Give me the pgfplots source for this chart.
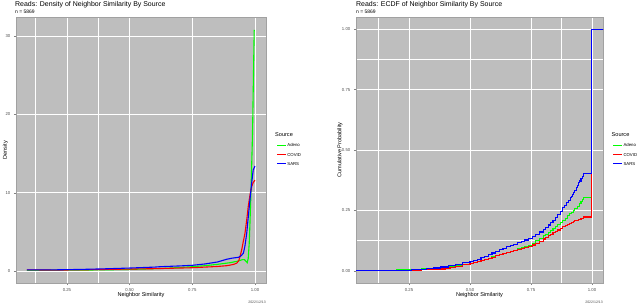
\documentclass[border=0pt]{standalone}
\usepackage{pgfplots}
\pgfplotsset{compat=1.18}
\usepackage{fontspec}
\setmainfont{Liberation Sans}
\definecolor{panelbg}{HTML}{BEBEBE}
\definecolor{ticklab}{HTML}{4D4D4D}
\definecolor{cgreen}{HTML}{00FF00}
\definecolor{cred}{HTML}{FF0000}
\definecolor{cblue}{HTML}{0000FF}

\pgfplotsset{
 ggbase/.style={
  scale only axis,
  axis background/.style={fill=panelbg},
  axis line style={draw=panelbg!85!black, line width=0.4bp},
  tick align=outside,
  tick pos=left,
  major tick length=2.2bp,
  minor tick length=0bp,
  every tick/.style={draw=ticklab!70, line width=0.4bp},
  grid=both,
  major grid style={white, line width=0.9bp},
  minor grid style={white, line width=0.45bp},
  tick label style={font=\fontsize{4.3}{5}\selectfont, text=ticklab},
  /pgf/number format/assume math mode=true,
  label style={font=\fontsize{5.6}{6}\selectfont},
  xlabel style={at={(axis description cs:0.5,-0.0489)}, anchor=base},
  clip=true,
  legend style={draw=none, fill=none, inner sep=0pt, outer sep=0pt,
    font=\fontsize{4.3}{5}\selectfont, row sep=3.4bp,
    nodes={inner sep=0.8bp, text height=3.3bp, text depth=0.8bp}},
  legend cell align=left,
  legend image code/.code={\draw[#1] (0bp,0bp) -- (9bp,0bp);},
 }
}

\begin{document}
\begin{tikzpicture}
\useasboundingbox (0,0) rectangle (640bp,304bp);
% ---------------- Left: density ----------------
\begin{axis}[ggbase,
  at={(16bp,21bp)}, anchor=south west, width=250bp, height=266bp,
  xmin=0.0467, xmax=1.044, ymin=-1.53, ymax=32.44,
  xtick={0.25,0.5,0.75,1}, minor xtick={0.125,0.375},
  ytick={0,10,20,30}, minor ytick={},
  xticklabel style={/pgf/number format/.cd,fixed,fixed zerofill,precision=2},
  xlabel={Neighbor Similarity},
  ylabel={Density},
  ylabel style={at={(axis description cs:-0.042,0.5)}, anchor=center},
  legend style={at={(1.042,0.527)}, anchor=north west},
  legend image code/.code={\draw[#1] (0bp,0bp) -- (9bp,0bp);},
]
\addplot[draw=cgreen, line width=1.1bp] coordinates {(0.09,0.08)(0.15,0.1)(0.2,0.1)(0.3,0.12)(0.4,0.15)(0.5,0.2)(0.6,0.3)(0.65,0.36)(0.7,0.45)(0.75,0.55)(0.8,0.68)(0.85,0.85)(0.9,1.06)(0.93,1.25)(0.95,1.45)(0.958,1.45)(0.964,1.25)(0.969,1.06)(0.973,1.6)(0.977,3.5)(0.98,6.1)(0.983,9)(0.986,12.5)(0.989,16)(0.991,19)(0.993,23)(0.995,27)(0.997,30.8)};
\addlegendentry{Adeno}
\addplot[draw=cred, line width=1.1bp] coordinates {(0.09,0.15)(0.2,0.12)(0.3,0.15)(0.4,0.2)(0.5,0.25)(0.6,0.3)(0.7,0.38)(0.75,0.42)(0.8,0.5)(0.85,0.58)(0.887,0.68)(0.9,0.75)(0.915,0.85)(0.927,1.0)(0.935,1.3)(0.94,1.8)(0.947,2.7)(0.953,3.7)(0.96,4.8)(0.967,6.5)(0.973,8.2)(0.98,9.7)(0.987,10.8)(0.993,11.3)(1.0,11.6)};
\addlegendentry{COVID}
\addplot[draw=cblue, line width=1.1bp] coordinates {(0.09,0.15)(0.2,0.15)(0.3,0.2)(0.4,0.28)(0.5,0.38)(0.6,0.5)(0.62,0.55)(0.7,0.65)(0.75,0.73)(0.8,0.9)(0.85,1.15)(0.887,1.5)(0.91,1.65)(0.934,1.75)(0.945,1.95)(0.954,2.3)(0.96,3.2)(0.967,4.8)(0.973,6.8)(0.98,9.1)(0.987,11.3)(0.993,12.9)(1.0,13.4)};
\addlegendentry{SARS}
\end{axis}
% ---------------- Right: ECDF ----------------
\begin{axis}[ggbase,
  at={(356bp,21bp)}, anchor=south west, width=247bp, height=266bp,
  xmin=0.0328, xmax=1.045, ymin=-0.05, ymax=1.05,
  xtick={0.25,0.5,0.75,1}, minor xtick={0.125,0.875},
  ytick={0,0.25,0.5,0.75,1}, minor ytick={0.125,0.875},
  xticklabel style={/pgf/number format/.cd,fixed,fixed zerofill,precision=2},
  yticklabel style={/pgf/number format/.cd,fixed,fixed zerofill,precision=2},
  xlabel={Neighbor Similarity},
  ylabel={Cumulative Probability},
  ylabel style={at={(axis description cs:-0.065,0.5)}, anchor=center},
  legend style={at={(1.039,0.527)}, anchor=north west},
  legend image code/.code={\draw[#1] (0bp,0bp) -- (9bp,0bp);},
]
\addplot[draw=cgreen, line width=1.1bp, const plot] coordinates {(0.0,0)(0.197,0)(0.2,0.005)(0.25,0.007)(0.3,0.009)(0.35,0.012)(0.4,0.017)(0.42,0.02)(0.44,0.023)(0.47,0.027)(0.5,0.032)(0.515,0.036)(0.53,0.04)(0.545,0.044)(0.56,0.049)(0.575,0.053)(0.59,0.058)(0.605,0.062)(0.62,0.067)(0.635,0.072)(0.65,0.077)(0.665,0.081)(0.68,0.086)(0.695,0.091)(0.71,0.096)(0.725,0.101)(0.74,0.106)(0.755,0.114)(0.77,0.124)(0.785,0.134)(0.8,0.145)(0.81,0.152)(0.82,0.16)(0.83,0.167)(0.84,0.175)(0.85,0.183)(0.86,0.192)(0.87,0.2)(0.88,0.209)(0.89,0.218)(0.9,0.228)(0.908,0.236)(0.915,0.243)(0.923,0.25)(0.93,0.258)(0.94,0.268)(0.95,0.28)(0.955,0.288)(0.96,0.296)(0.965,0.302)(0.998,1.0)(1.1,1.0)};
\addlegendentry{Adeno}
\addplot[draw=cred, line width=1.1bp, const plot] coordinates {(0.0,0)(0.22,0.001)(0.26,0.002)(0.3,0.004)(0.35,0.008)(0.4,0.012)(0.42,0.015)(0.44,0.019)(0.47,0.025)(0.5,0.03)(0.515,0.034)(0.53,0.038)(0.545,0.042)(0.56,0.046)(0.575,0.051)(0.59,0.056)(0.605,0.062)(0.62,0.068)(0.635,0.073)(0.65,0.077)(0.665,0.081)(0.68,0.085)(0.695,0.089)(0.71,0.093)(0.725,0.097)(0.74,0.1)(0.755,0.107)(0.77,0.114)(0.785,0.123)(0.8,0.132)(0.81,0.138)(0.82,0.145)(0.83,0.151)(0.84,0.157)(0.85,0.163)(0.86,0.169)(0.87,0.176)(0.88,0.182)(0.89,0.188)(0.9,0.193)(0.908,0.197)(0.915,0.2)(0.923,0.204)(0.93,0.207)(0.938,0.21)(0.945,0.213)(0.955,0.216)(0.965,0.223)(0.998,1.0)(1.1,1.0)};
\addlegendentry{COVID}
\addplot[draw=cblue, line width=1.1bp, const plot] coordinates {(0.0,0)(0.15,0.001)(0.2,0.002)(0.23,0.003)(0.26,0.005)(0.29,0.007)(0.32,0.009)(0.35,0.012)(0.38,0.016)(0.41,0.021)(0.44,0.027)(0.47,0.033)(0.485,0.036)(0.5,0.04)(0.515,0.044)(0.53,0.049)(0.545,0.054)(0.56,0.06)(0.575,0.067)(0.59,0.074)(0.605,0.081)(0.62,0.088)(0.635,0.094)(0.65,0.1)(0.665,0.105)(0.68,0.11)(0.695,0.116)(0.71,0.122)(0.725,0.128)(0.74,0.134)(0.755,0.142)(0.77,0.151)(0.785,0.161)(0.8,0.172)(0.81,0.181)(0.82,0.19)(0.83,0.2)(0.84,0.21)(0.85,0.222)(0.86,0.234)(0.87,0.247)(0.88,0.261)(0.888,0.271)(0.895,0.282)(0.903,0.292)(0.91,0.302)(0.915,0.308)(0.92,0.315)(0.925,0.324)(0.93,0.334)(0.935,0.345)(0.94,0.355)(0.945,0.364)(0.95,0.372)(0.955,0.382)(0.96,0.392)(0.965,0.401)(0.998,1.0)(1.1,1.0)};
\addlegendentry{SARS}
\end{axis}
% ---------------- Titles and annotations ----------------
\node[anchor=base west, inner sep=0pt, font=\fontsize{7}{8}\selectfont] at (15bp,297.5bp) {Reads: Density of Neighbor Similarity By Source};
\node[anchor=base west, inner sep=0pt, font=\fontsize{5}{6}\selectfont] at (15bp,290bp) {n = 5869};
\node[anchor=base west, inner sep=0pt, font=\fontsize{7}{8}\selectfont] at (356bp,297.5bp) {Reads: ECDF of Neighbor Similarity By Source};
\node[anchor=base west, inner sep=0pt, font=\fontsize{5}{6}\selectfont] at (356bp,290bp) {n = 5869};
\node[anchor=base west, inner sep=0pt, font=\fontsize{5.6}{6}\selectfont] at (275bp,167bp) {Source};
\node[anchor=base west, inner sep=0pt, font=\fontsize{5.6}{6}\selectfont] at (611.5bp,167bp) {Source};
\node[anchor=base east, inner sep=0pt, font=\fontsize{3.5}{4}\selectfont, text=ticklab] at (266bp,1bp) {2022/12/13};
\node[anchor=base east, inner sep=0pt, font=\fontsize{3.5}{4}\selectfont, text=ticklab] at (603bp,1bp) {2022/12/13};
\end{tikzpicture}
\end{document}
